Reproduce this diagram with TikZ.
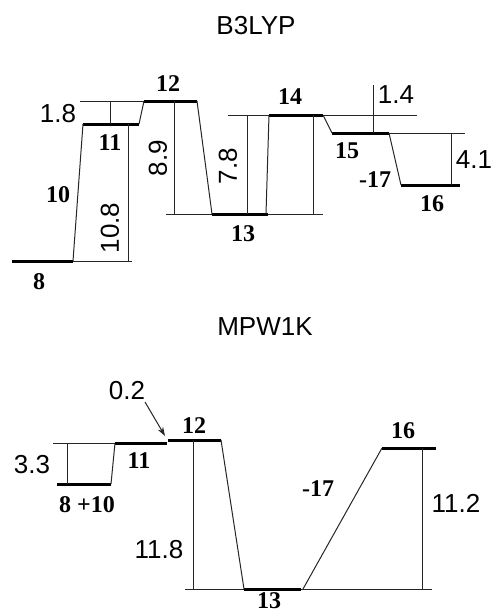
\documentclass[tikz,border=0pt]{standalone}
\usepackage{fontspec}
\setmainfont{Liberation Sans}
\newfontfamily\tnr{Liberation Serif}
\usetikzlibrary{arrows.meta}
\begin{document}
\begin{tikzpicture}[x=1pt,y=-1pt,
  thinline/.style={line width=1pt,black!85},
  level/.style={line width=3pt,black},
  num/.style={inner sep=0pt,font=\fontsize{26}{28}\selectfont},
  lab/.style={inner sep=0pt,font=\fontsize{24}{26}\selectfont\tnr\bfseries},
  ttl/.style={inner sep=0pt,font=\fontsize{26}{28}\selectfont}]
\useasboundingbox (0,0) rectangle (492,613);

% ================= B3LYP =================
\node[ttl] (t1) at (256,26) {B3LYP};

\coordinate (a8L) at (12,261);   \coordinate (a8R) at (73,261);
\coordinate (a11L) at (83,124);  \coordinate (a11R) at (139,124);
\coordinate (a12L) at (144,101); \coordinate (a12R) at (197,101);
\coordinate (a13L) at (212,214); \coordinate (a13R) at (268,214);
\coordinate (a14L) at (269,115); \coordinate (a14R) at (323,115);
\coordinate (a15L) at (332,133); \coordinate (a15R) at (389,133);
\coordinate (a16L) at (401,185); \coordinate (a16R) at (460,185);

% levels
\draw[level] (a8L) -- (a8R);
\draw[level] (a11L) -- (a11R);
\draw[level] (a12L) -- (a12R);
\draw[level] (a13L) -- (a13R);
\draw[level] (a14L) -- (a14R);
\draw[level] (a15L) -- (a15R);
\draw[level] (a16L) -- (a16R);

% connectors
\draw[thinline] (a8R) -- (a11L);
\draw[thinline] (a11R) -- (a12L);
\draw[thinline] (a12R) -- (a13L);
\draw[thinline] (266,214) -- (a14L);
\draw[thinline] (a14R) -- (a15L);
\draw[thinline] (a15R) -- (a16L);

% reference lines
\draw[thinline] (80,101) -- (a12L);
\draw[thinline] (110,101) -- (110,124);
\draw[thinline] (a8R) -- (132,261);
\draw[thinline] (128,124) -- (128,261);
\draw[thinline] (174,101) -- (174,214);
\draw[thinline] (166,214) -- (a13L);
\draw[thinline] (a13R) -- (323,214);
\draw[thinline] (228,115) -- (a14L);
\draw[thinline] (247,115) -- (247,214);
\draw[thinline] (313,115) -- (313,214);
\draw[thinline] (a14R) -- (417,115);
\draw[thinline] (373,85) -- (373,133);
\draw[thinline] (a15R) -- (465,133);
\draw[thinline] (451,133) -- (451,185);

% labels
\node[num] (v18) at (58,114) {1.8};
\node[num,rotate=90] (v108) at (110,228) {10.8};
\node[num,rotate=90] (v89) at (158,158) {8.9};
\node[num,rotate=90] (v78) at (228,166) {7.8};
\node[num] (v14) at (396,95) {1.4};
\node[num] (v41) at (474,160) {4.1};

\node[lab] (l8) at (39,282) {8};
\node[lab] (l10) at (58,195) {10};
\node[lab] (l11) at (110,143) {11};
\node[lab] (l12) at (168,84) {12};
\node[lab] (l13) at (243,234) {13};
\node[lab] (l14) at (290,97) {14};
\node[lab] (l15) at (347,151) {15};
\node[lab] (l17) at (375,180) {-17};
\node[lab] (l16) at (432,204) {16};

% ================= MPW1K =================
\node[ttl] (t2) at (265,327) {MPW1K};

\coordinate (b8L) at (57,484);   \coordinate (b8R) at (111,484);
\coordinate (b11L) at (115,443); \coordinate (b11R) at (167,443);
\coordinate (b12L) at (168,440); \coordinate (b12R) at (221,440);
\coordinate (b13L) at (244,589); \coordinate (b13R) at (301,589);
\coordinate (b16L) at (382,448); \coordinate (b16R) at (436,448);

\draw[level] (b8L) -- (b8R);
\draw[level] (b11L) -- (b11R);
\draw[level] (b12L) -- (b12R);
\draw[level] (b13L) -- (b13R);
\draw[level] (b16L) -- (b16R);

\draw[thinline] (b8R) -- (b11L);
\draw[thinline] (b12R) -- (b13L);
\draw[thinline] (303,589) -- (b16L);

\draw[thinline] (53,443) -- (b11L);
\draw[thinline] (67,443) -- (67,484);
\draw[thinline] (193,440) -- (193,589);
\draw[thinline] (185,589) -- (b13L);
\draw[thinline] (b13R) -- (432,589);
\draw[thinline] (422,448) -- (422,589);

\node[num] (v02) at (127,391) {0.2};
\coordinate (arS) at (145,402);
\coordinate (arE) at (165,436);
\draw[thinline,-{Stealth[length=9pt,width=6pt]}] (arS) -- (arE);

\node[num] (v33) at (32,465) {3.3};
\node[num] (v118) at (159,550) {11.8};
\node[num] (v112) at (456,503) {11.2};

\node[lab] (m810) at (87,505) {8 +10};
\node[lab] (m11) at (139,461) {11};
\node[lab] (m12) at (194,426) {12};
\node[lab] (m13) at (269,601) {13};
\node[lab] (m17) at (318,489) {-17};
\node[lab] (m16) at (403,431) {16};
\end{tikzpicture}
\end{document}
